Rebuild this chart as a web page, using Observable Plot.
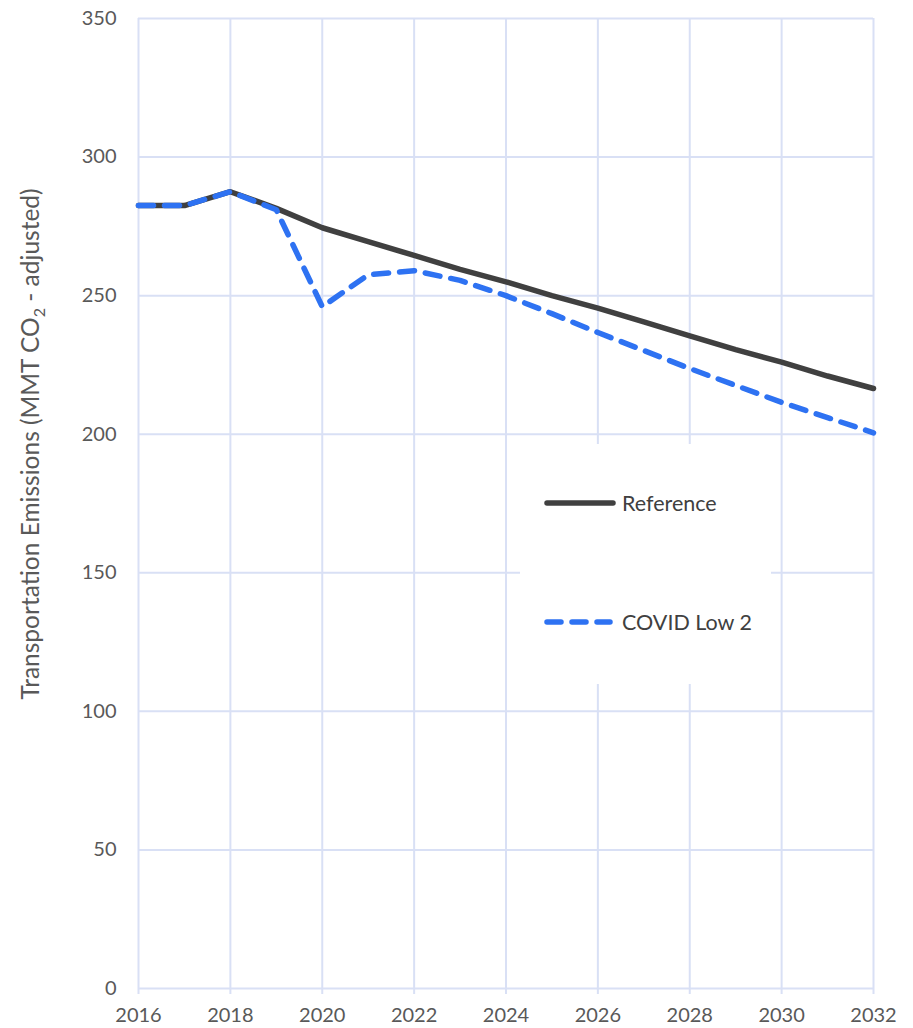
<!DOCTYPE html>
<html>
<head>
<meta charset="utf-8">
<script src="https://cdn.jsdelivr.net/npm/d3@7"></script>
<script src="https://cdn.jsdelivr.net/npm/@observablehq/plot@0.6"></script>
<style>
  html, body { margin: 0; padding: 0; background: #fff; }
  #chart { position: relative; width: 913px; height: 1028px; }
</style>
</head>
<body>
<div id="chart"></div>
<script>
const years = [2016,2017,2018,2019,2020,2021,2022,2023,2024,2025,2026,2027,2028,2029,2030,2031,2032];
const reference = [282.5,282.5,287.5,281.5,274.5,269.5,264.5,259.5,255,250,245.5,240.5,235.5,230.5,226,221,216.5];
const covidLow2 = [282.5,282.5,287.5,281,246,257.5,259,255.5,250,243.5,236.7,230.2,223.7,217.6,211.5,206,200.5];
const xTicks = [2016,2018,2020,2022,2024,2026,2028,2030,2032];
const yTicks = [0,50,100,150,200,250,300,350];
const seriesNames = ["Reference", "COVID Low 2"];

const refData = years.map((y, i) => ({year: y, value: reference[i]}));
const covData = years.map((y, i) => ({year: y, value: covidLow2[i]}));

const gridColor = "#d9e0f5";
const textColor = "#595959";
const font = "Lato, 'Open Sans', sans-serif";
const refColor = "#404040";
const covColor = "#2e72f2";

const chart = Plot.plot({
  width: 913,
  height: 1028,
  marginLeft: 138,
  marginRight: 40,
  marginTop: 18,
  marginBottom: 40,
  style: { fontFamily: font, background: "#fff" },
  x: { domain: [2016, 2032] },
  y: { domain: [0, 350] },
  marks: [
    Plot.ruleY(yTicks, { y: d => d, stroke: gridColor, strokeWidth: 2 }),
    Plot.ruleX(xTicks, { x: d => d, stroke: gridColor, strokeWidth: 2, insetBottom: -6 }),
    Plot.axisX({ ticks: xTicks, tickSize: 0, tickPadding: 19, tickFormat: d => String(d), fontSize: 20, color: textColor, label: null }),
    Plot.axisY({ ticks: yTicks, tickSize: 0, tickPadding: 22, fontSize: 20, color: textColor, label: null }),
    Plot.line(refData, { x: "year", y: "value", stroke: refColor, strokeWidth: 5.5, strokeLinejoin: "round" }),
    Plot.line(covData, { x: "year", y: "value", stroke: covColor, strokeWidth: 5.5, strokeDasharray: "15,11", strokeLinecap: "round", strokeLinejoin: "round" })
  ]
});

document.getElementById("chart").appendChild(chart);

const svg = d3.select(chart);
// y-axis title
const t = svg.append("text")
  .attr("transform", "translate(30,444) rotate(-90)")
  .attr("text-anchor", "middle")
  .attr("dy", "0.35em")
  .attr("font-family", font)
  .attr("font-size", 24.5)
  .attr("fill", textColor);
t.append("tspan").text("Transportation Emissions (MMT CO");
t.append("tspan").attr("font-size", 16).attr("dy", 6).text("2");
t.append("tspan").attr("dy", -6).text(" - adjusted)");

// legend
const lg = svg.append("g");
lg.append("rect").attr("x", 520).attr("y", 444).attr("width", 251).attr("height", 240).attr("fill", "#fff");
lg.append("line").attr("x1", 547).attr("x2", 613).attr("y1", 503).attr("y2", 503)
  .attr("stroke", refColor).attr("stroke-width", 5.5).attr("stroke-linecap", "round");
lg.append("line").attr("x1", 547).attr("x2", 610).attr("y1", 622).attr("y2", 622)
  .attr("stroke", covColor).attr("stroke-width", 5.5).attr("stroke-linecap", "round").attr("stroke-dasharray", "14,11");
lg.append("text").attr("x", 622).attr("y", 503).attr("dy", "0.35em").attr("text-anchor", "start").attr("font-family", font).attr("font-size", 21.5).attr("fill", refColor).text(seriesNames[0]);
lg.append("text").attr("x", 622).attr("y", 622).attr("dy", "0.35em").attr("text-anchor", "start").attr("font-family", font).attr("font-size", 21.5).attr("fill", refColor).text(seriesNames[1]);
</script>
</body>
</html>
